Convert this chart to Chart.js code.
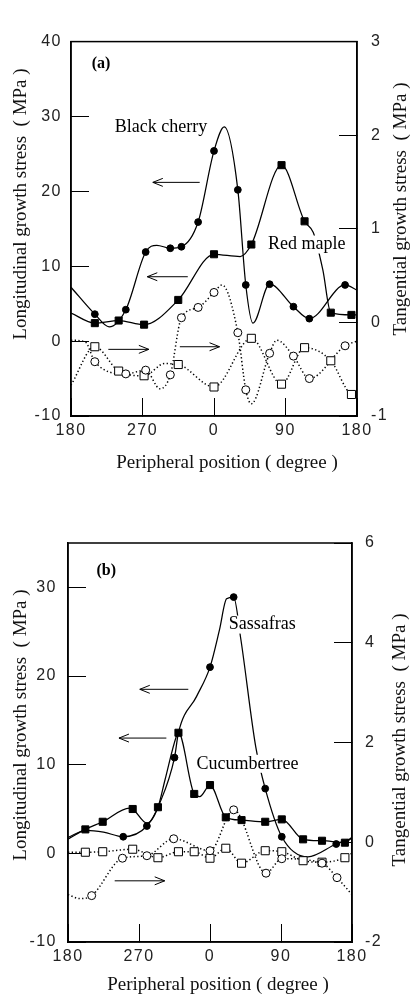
<!DOCTYPE html>
<html><head><meta charset="utf-8">
<script src="https://cdn.jsdelivr.net/npm/chart.js@4/dist/chart.umd.min.js"></script>
<style>
html,body{margin:0;padding:0;background:#fff;}
#wrap{position:relative;width:413px;height:998px;overflow:hidden;background:#fff;}
canvas{position:absolute;left:0;}
#ca{top:0;} #cb{top:500px;}
</style></head><body>
<div id="wrap"><canvas id="ca" width="413" height="500"></canvas><canvas id="cb" width="413" height="498"></canvas></div>
<script>
// ---------- tick labels ----------
const xTickValues = [180, 270, 360, 450, 540];   // unrolled peripheral position
const xTickLabels = [180, 270, 0, 90, 180];      // printed degree labels
const yLeftTicksA  = [-10, 0, 10, 20, 30, 40];
const yRightTicksA = [-1, 0, 1, 2, 3];
const yLeftTicksB  = [-10, 0, 10, 20, 30];
const yRightTicksB = [-2, 0, 2, 4, 6];

// ---------- panel (a): Black cherry (circles) ----------
const posCherry  = [210, 249, 274, 305, 319, 340, 360, 390, 400, 430, 460, 480, 525];
const cherryLong = [3.6, 4.2, 11.9, 12.4, 12.6, 15.9, 25.4, 20.2, 7.5, 7.6, 4.6, 3.0, 7.5];
const cherryTang = [-0.42, -0.55, -0.51, -0.56, 0.05, 0.16, 0.32, -0.11, -0.72, -0.33, -0.36, -0.60, -0.25];
const cherryLongKnotX = [180, 228, 288, 373, 409, 540];
const cherryLongKnotY = [7.2, 1.9, 12.8, 28.6, 2.4, 6.8];
const cherryTangKnotX = [180, 198, 292, 370, 407, 439, 540];
const cherryTangKnotY = [-0.19, -0.21, -0.71, 0.40, -0.87, -0.19, -0.2];

// ---------- panel (a): Red maple (squares) ----------
const posMaple  = [210, 240, 272, 315, 360, 407, 445, 474, 507, 533];
const mapleLong = [2.4, 2.75, 2.2, 5.5, 11.6, 12.9, 23.5, 16.0, 3.8, 3.5];
const mapleTang = [-0.26, -0.52, -0.57, -0.45, -0.69, -0.17, -0.66, -0.27, -0.41, -0.77];
const mapleLongKnotX = [180, 393, 485, 497, 540];
const mapleLongKnotY = [3.75, 11.3, 14.5, 9.5, 3.5];
const mapleTangKnotX = [180, 298, 540];
const mapleTangKnotY = [-0.67, -0.44, -0.78];

// ---------- panel (b): Sassafras (circles) ----------
const posSass  = [250, 280, 315, 360, 390, 430, 451, 520];
const sassLong = [1.87, 3.08, 10.8, 21.0, 28.9, 7.3, 1.87, 1.05];
const sassLongKnotX = [180, 203, 225, 296, 320, 343, 372, 381, 399, 418, 484, 540];
const sassLongKnotY = [1.8, 2.6, 2.4, 5.6, 13.6, 17.7, 25.2, 28.7, 24.2, 12.0, -0.4, 1.7];
const posSassTang = [210, 249, 280, 314, 360, 390, 431, 451, 502, 521];
const sassTang    = [-1.07, -0.32, -0.27, 0.07, -0.17, 0.65, -0.62, -0.33, -0.42, -0.71];
const sassTangKnotX = [180, 195, 540];
const sassTangKnotY = [-1.05, -1.13, -1.05];

// ---------- panel (b): Cucumbertree (squares) ----------
const posCuc  = [202, 224, 262, 294, 320, 340, 360, 380, 400, 430, 451, 478, 502, 531];
const cucLong = [2.7, 3.56, 5.0, 5.2, 13.6, 6.7, 7.7, 4.06, 3.75, 3.56, 3.83, 1.58, 1.42, 1.2];
const cucTang = [-0.2, -0.19, -0.14, -0.31, -0.19, -0.19, -0.32, -0.12, -0.42, -0.17, -0.19, -0.37, -0.40, -0.31];
const cucLongKnotX = [180, 258, 280, 303, 317, 347, 540];
const cucLongKnotY = [1.6, 5.1, 3.4, 8.3, 13.1, 6.4, 1.8];
const cucTangKnotX = [180, 540];
const cucTangKnotY = [-0.2, -0.22];

// ---------- helpers ----------
const SERIF = '"Liberation Serif", "Times New Roman", serif';
const SANS = '"Liberation Sans", Arial, sans-serif';

function pts(xs, ys) { return xs.map((x, i) => ({x: x, y: ys[i]})); }
function curve(px, py, kx, ky) { return pts(px, py).concat(pts(kx, ky)).sort((a, b) => a.x - b.x); }

function curveDS(data, axis, dotted) {
  return { data: data, yAxisID: axis, borderColor: '#000', borderWidth: dotted ? 1.5 : 1.25,
    borderDash: dotted ? [1.3, 2.4] : [], pointRadius: 0, fill: false,
    cubicInterpolationMode: 'monotone', order: 2 };
}
function markerDS(data, axis, style, filled, r) {
  return { data: data, yAxisID: axis, showLine: false, pointStyle: style, pointRadius: r,
    pointBackgroundColor: filled ? '#000' : '#fff', pointBorderColor: '#000', pointBorderWidth: 1, order: 1 };
}

const decorPlugin = {
  id: 'decor',
  beforeDraw(chart) { chart.ctx.letterSpacing = '1.5px'; },
  afterDatasetsDraw(chart, args, o) {
    const ctx = chart.ctx, sx = chart.scales.x, sy = chart.scales.yL;
    ctx.save();
    ctx.letterSpacing = '0px';
    ctx.textBaseline = 'middle'; ctx.textAlign = 'left';
    ctx.font = '18px ' + SERIF;
    for (const l of o.labels) {
      const px = sx.getPixelForValue(l.x), py = sy.getPixelForValue(l.y);
      const w = ctx.measureText(l.text).width;
      ctx.fillStyle = '#fff'; ctx.fillRect(px - 2, py - 9, w + 4, 18);
      ctx.fillStyle = '#000'; ctx.fillText(l.text, px, py);
    }
    ctx.font = 'bold 16px ' + SERIF;
    ctx.fillStyle = '#000';
    ctx.fillText(o.tag.text, sx.getPixelForValue(o.tag.x), sy.getPixelForValue(o.tag.y));
    ctx.strokeStyle = '#000'; ctx.lineWidth = 1;
    for (const a of o.arrows) {
      const x1 = sx.getPixelForValue(a.from), x2 = sx.getPixelForValue(a.to), y = sy.getPixelForValue(a.y);
      const d = Math.sign(x2 - x1);
      ctx.beginPath(); ctx.moveTo(x1, y); ctx.lineTo(x2, y);
      ctx.moveTo(x2 - d * 10, y - 4); ctx.lineTo(x2, y); ctx.lineTo(x2 - d * 10, y + 4);
      ctx.stroke();
    }
    ctx.restore();
  },
  afterDraw(chart, args, o) {
    const ctx = chart.ctx, a = chart.chartArea;
    ctx.save(); ctx.letterSpacing = '0px';
    ctx.strokeStyle = '#000'; ctx.lineWidth = 1.5;
    ctx.strokeRect(a.left, a.top, a.right - a.left, a.bottom - a.top);
    ctx.fillStyle = '#111'; ctx.font = '19px ' + SERIF;
    ctx.textAlign = 'center'; ctx.textBaseline = 'middle';
    const t = o.titles;
    ctx.fillText(t.bottom.text, t.bottom.x, t.bottom.y);
    for (const s of [t.left, t.right]) {
      ctx.save(); ctx.translate(s.x, s.y); ctx.rotate(-Math.PI / 2); ctx.fillText(s.text, 0, 0); ctx.restore();
    }
    ctx.restore();
  }
};

function makePanel(c) {
  const tickFont = {family: SANS, size: 16};
  const grid = {drawOnChartArea: false, drawTicks: true, tickLength: -18, color: '#000', lineWidth: 1};
  const border = {display: true, color: '#000', width: 1.5};
  return new Chart(document.getElementById(c.canvas), {
    type: 'line',
    data: {datasets: c.datasets},
    options: {
      responsive: false, animation: false, events: [],
      layout: {padding: {top: c.padTop, left: 0, right: 0, bottom: 0}},
      plugins: {legend: {display: false}, tooltip: {enabled: false}, decor: c.decor},
      scales: {
        x: {type: 'linear', position: 'bottom', min: 180, max: 540,
          afterBuildTicks: s => { s.ticks = xTickValues.map(v => ({value: v})); },
          ticks: {callback: (v, i) => String(xTickLabels[i]), font: tickFont, color: '#222', padding: 23, maxRotation: 0, autoSkip: false},
          grid: grid, border: border, afterFit: s => { s.height = c.xH; }},
        yL: {type: 'linear', position: 'left', min: c.yL[0], max: c.yL[1],
          afterBuildTicks: s => { s.ticks = c.yLTicks.map(v => ({value: v})); },
          ticks: {font: tickFont, color: '#222', padding: 18 + c.gapL},
          grid: grid, border: border, afterFit: s => { s.width = c.leftW; }},
        yR: {type: 'linear', position: 'right', min: c.yR[0], max: c.yR[1],
          afterBuildTicks: s => { s.ticks = c.yRTicks.map(v => ({value: v})); },
          ticks: {font: tickFont, color: '#222', padding: 18 + c.gapR},
          grid: grid, border: border, afterFit: s => { s.width = c.rightW; }}
      }
    },
    plugins: [decorPlugin]
  });
}

const LEFT_T = 'Longitudinal growth stress  ( MPa )';
const RIGHT_T = 'Tangential growth stress  ( MPa )';
const BOTTOM_T = 'Peripheral position ( degree )';

makePanel({
  canvas: 'ca', padTop: 15, xH: 84, leftW: 71, rightW: 56, gapL: 9, gapR: 14,
  yL: [-10, 40], yR: [-1, 3], yLTicks: yLeftTicksA, yRTicks: yRightTicksA,
  datasets: [
    markerDS(pts(posCherry, cherryLong), 'yL', 'circle', true, 3.4),
    markerDS(pts(posMaple, mapleLong), 'yL', 'rect', true, 5),
    markerDS(pts(posCherry, cherryTang), 'yR', 'circle', false, 4),
    markerDS(pts(posMaple, mapleTang), 'yR', 'rect', false, 5.7),
    curveDS(curve(posCherry, cherryLong, cherryLongKnotX, cherryLongKnotY), 'yL', false),
    curveDS(curve(posMaple, mapleLong, mapleLongKnotX, mapleLongKnotY), 'yL', false),
    curveDS(curve(posCherry, cherryTang, cherryTangKnotX, cherryTangKnotY), 'yR', true),
    curveDS(curve(posMaple, mapleTang, mapleTangKnotX, mapleTangKnotY), 'yR', true)
  ],
  decor: {
    tag: {text: '(a)', x: 206, y: 37},
    labels: [{text: 'Black cherry', x: 235, y: 28.5}, {text: 'Red maple', x: 428, y: 12.9}],
    arrows: [{from: 342, to: 283, y: 21.2}, {from: 327, to: 276, y: 8.6},
             {from: 227, to: 278, y: -1.1}, {from: 317, to: 367, y: -0.75}],
    titles: {left: {text: LEFT_T, x: 21, y: 204}, right: {text: RIGHT_T, x: 401, y: 209},
             bottom: {text: BOTTOM_T, x: 227, y: 463}}
  }
});

makePanel({
  canvas: 'cb', padTop: 43, xH: 56, leftW: 68, rightW: 61, gapL: 11, gapR: 13,
  yL: [-10, 35], yR: [-2, 6], yLTicks: yLeftTicksB, yRTicks: yRightTicksB,
  datasets: [
    markerDS(pts(posSass, sassLong), 'yL', 'circle', true, 3.4),
    markerDS(pts(posCuc, cucLong), 'yL', 'rect', true, 5),
    markerDS(pts(posSassTang, sassTang), 'yR', 'circle', false, 4),
    markerDS(pts(posCuc, cucTang), 'yR', 'rect', false, 5.7),
    curveDS(curve(posSass, sassLong, sassLongKnotX, sassLongKnotY), 'yL', false),
    curveDS(curve(posCuc, cucLong, cucLongKnotX, cucLongKnotY), 'yL', false),
    curveDS(curve(posSassTang, sassTang, sassTangKnotX, sassTangKnotY), 'yR', true),
    curveDS(curve(posCuc, cucTang, cucTangKnotX, cucTangKnotY), 'yR', true)
  ],
  decor: {
    tag: {text: '(b)', x: 216, y: 31.9},
    labels: [{text: 'Sassafras', x: 383.7, y: 25.8}, {text: 'Cucumbertree', x: 343, y: 10.1}],
    arrows: [{from: 332.5, to: 271, y: 18.5}, {from: 304.7, to: 244.6, y: 13.0},
             {from: 239.2, to: 302.6, y: -3.1}],
    titles: {left: {text: LEFT_T, x: 21, y: 225}, right: {text: RIGHT_T, x: 400, y: 240},
             bottom: {text: BOTTOM_T, x: 218, y: 485}}
  }
});
</script>
</body></html>
